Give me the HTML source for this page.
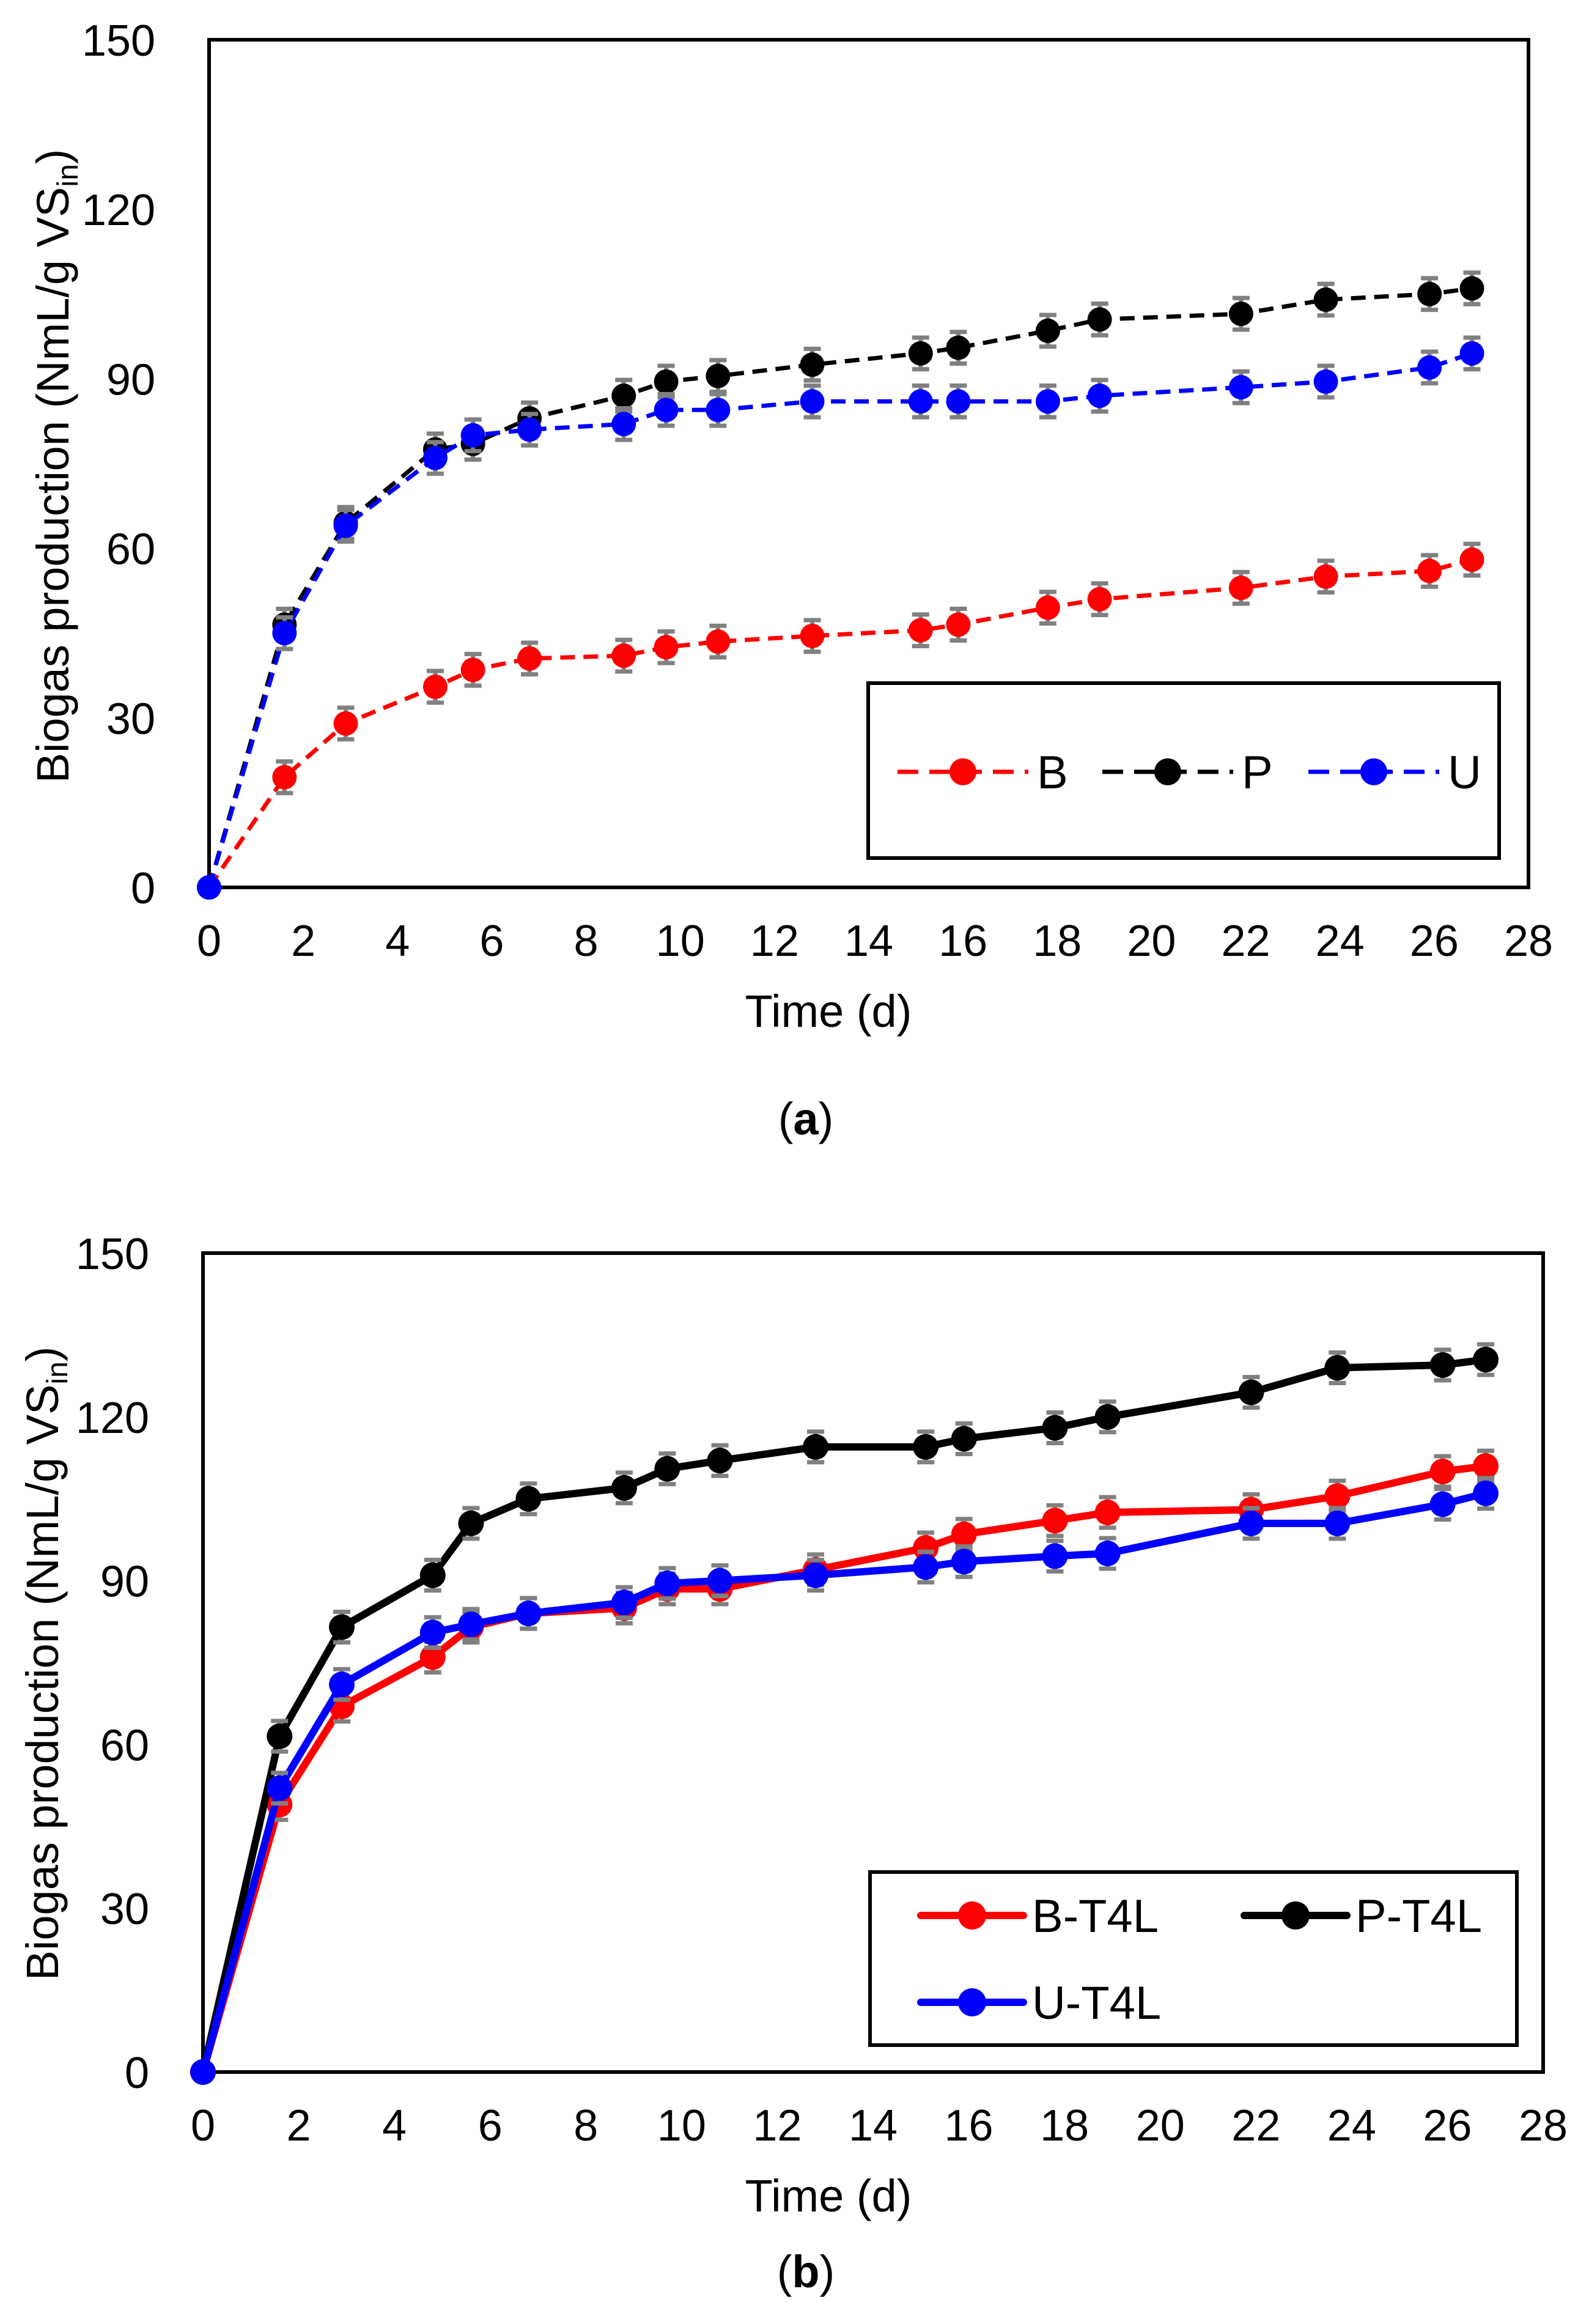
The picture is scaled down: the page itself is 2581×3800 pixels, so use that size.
<!DOCTYPE html>
<html><head><meta charset="utf-8"><style>
html,body{margin:0;padding:0;background:#fff}
svg{display:block}
text{font-family:"Liberation Sans",sans-serif;fill:#000}
</style></head><body>
<svg id="svg" width="2581" height="3800" viewBox="0 0 2581 3800" xmlns="http://www.w3.org/2000/svg"></svg>
<script>
const days = [0,1.6,2.9,4.8,5.6,6.8,8.8,9.7,10.8,12.8,15.1,15.9,17.8,18.9,21.9,23.7,25.9,26.8];
const seriesB = [0,19.5,29,35.5,38.5,40.5,41,42.5,43.5,44.5,45.5,46.5,49.5,51,53,55,56,58];
const seriesP = [0,46.5,64.5,77.5,78.5,83,87,89.5,90.5,92.5,94.5,95.5,98.5,100.5,101.5,104,105,106];
const seriesU = [0,45,64,76,80,81,82,84.5,84.5,86,86,86,86,87,88.5,89.5,92,94.5];
const seriesBT = [0,49,67,76,81.5,84,85,88.5,88.5,92,96,98.5,101,102.5,103,105.5,110,111];
const seriesPT = [0,61.5,81.5,91,100.5,105,107,110.5,112,114.5,114.5,116,118,120,124.5,129,129.5,130.5];
const seriesUT = [0,52,71,80.5,82,84,86,89.5,90,91,92.5,93.5,94.5,95,100.5,100.5,104,106];
const xTicks = [0,2,4,6,8,10,12,14,16,18,20,22,24,26,28];
const yTicks = [0,30,60,90,120,150];
const errA = 2.8;

const NS="http://www.w3.org/2000/svg";
const svg=document.getElementById('svg');
function el(tag,attrs,parent){const e=document.createElementNS(NS,tag);for(const k in attrs)e.setAttribute(k,attrs[k]);(parent||svg).appendChild(e);return e;}

function chart(cfg){
  const g=el('g',{});
  
  
  const L=cfg.L,R=cfg.R,T=cfg.T,B=cfg.B;
  const xs=v=>L+(v/28)*(R-L);
  const ys=v=>B-(v/150)*(B-T);
  const box=el('rect',{x:L,y:T,width:R-L,height:B-T,fill:'none',stroke:'#000','stroke-width':6},g);
  
  
  xTicks.forEach(t=>{const tx=el('text',{x:xs(t),y:B+112,'font-size':72,'text-anchor':'middle'},g);tx.textContent=t;
    
    });
  yTicks.forEach(t=>{const tx=el('text',{x:L-88,y:ys(t)+26,'font-size':72,'text-anchor':'end'},g);tx.textContent=t;
    
    });
  const xt=el('text',{x:1355,y:B+228,'font-size':74,'text-anchor':'middle'},g);xt.textContent='Time (d)';
  
  
  const yt=el('text',{x:0,y:0,'font-size':74,'text-anchor':'middle',transform:`translate(${cfg.yx},${cfg.ycy}) rotate(-90)`},g);
  yt.innerHTML='Biogas production (NmL/g VS<tspan font-size="48" dy="15">in</tspan><tspan dy="-15">)</tspan>';
  
  
  const cap=el('text',{x:1318,y:cfg.capY,'font-size':74,'text-anchor':'middle','font-family':'Liberation Serif, serif'},g);
  cap.innerHTML='(<tspan font-weight="bold">'+cfg.cap+'</tspan>)';
  
  
  const lg=el('g',{},g);
  
  
  el('rect',{x:cfg.lg[0],y:cfg.lg[1],width:cfg.lg[2],height:cfg.lg[3],fill:'#fff',stroke:'#000','stroke-width':6},lg);
  cfg.series.forEach(s=>{
    const sg=el('g',{},g);
    
    
    const pts=s.data.map((v,i)=>xs(days[i])+','+ys(v)).join(' ');
    const pl=el('polyline',{points:pts,fill:'none',stroke:s.color,'stroke-width':cfg.lw,'stroke-dasharray':cfg.dash||'none','stroke-linejoin':'round','stroke-linecap':cfg.dash?'butt':'round'},sg);
    
    
    s.data.forEach((v,i)=>{
      if(i>0){const e=el('path',{d:`M${xs(days[i])},${ys(v+errA)}V${ys(v-errA)}M${xs(days[i])-14},${ys(v+errA)}h28M${xs(days[i])-14},${ys(v-errA)}h28`,stroke:'#808080','stroke-width':7,fill:'none'},sg);
        
        }
      const c=el('circle',{cx:xs(days[i]),cy:ys(v),r:cfg.mr,fill:s.color},sg);
      
      
    });
    const le=el('g',{},lg);
    
    
    el('line',{x1:s.lx,y1:s.ly,x2:s.lx+s.lw,y2:s.ly,stroke:s.color,'stroke-width':cfg.lw,'stroke-dasharray':cfg.ldash||'none','stroke-linecap':cfg.dash?'butt':'round'},le);
    el('circle',{cx:s.lx+s.lw/2,cy:s.ly,r:cfg.mr+2,fill:s.color},le);
    const t=el('text',{x:s.lx+s.lw+14,y:s.ly+27,'font-size':76},le);t.textContent=s.label;
  });
}

chart({name:'chart-a',L:342,R:2500,T:65,B:1451,yx:112,ycy:762,capY:1855,cap:'a',lw:7,dash:'24,14',ldash:'34,18',mr:20,
  lg:[1420,1117,1032,286],
  series:[
    {label:'B',data:seriesB,color:'#ff0000',lx:1468,ly:1262,lw:214},
    {label:'P',data:seriesP,color:'#000000',lx:1803,ly:1262,lw:214},
    {label:'U',data:seriesU,color:'#0000ff',lx:2140,ly:1262,lw:214}
  ]});
chart({name:'chart-b',L:332,R:2524,T:2049,B:3388,yx:95,ycy:2720,capY:3740,cap:'b',lw:12,dash:null,ldash:null,mr:21,
  lg:[1423,3061,1058,283],
  series:[
    {label:'B-T4L',data:seriesBT,color:'#ff0000',lx:1506,ly:3132,lw:168},
    {label:'P-T4L',data:seriesPT,color:'#000000',lx:2035,ly:3132,lw:168},
    {label:'U-T4L',data:seriesUT,color:'#0000ff',lx:1506,ly:3274,lw:168}
  ]});
</script>
</body></html>
